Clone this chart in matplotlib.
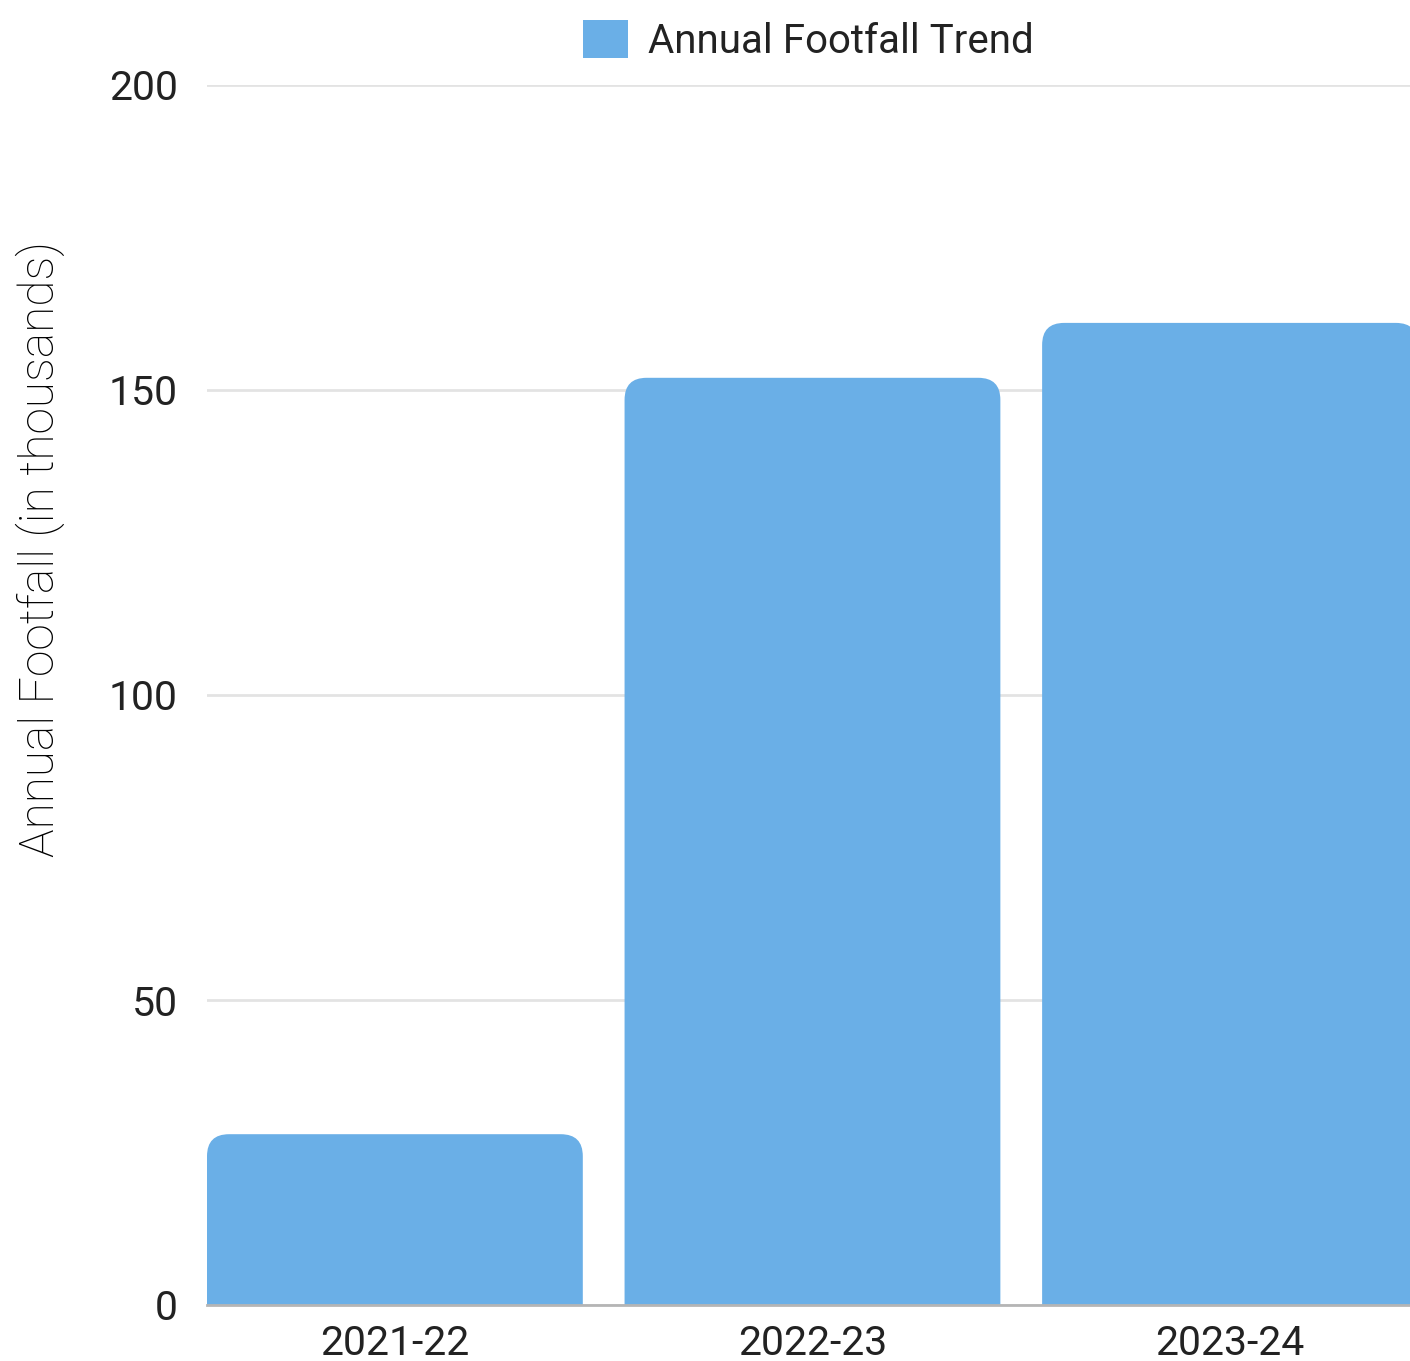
import matplotlib
matplotlib.use('Agg')
import matplotlib.pyplot as plt
from matplotlib.patches import FancyBboxPatch, Patch

matplotlib.rcParams['font.family'] = ['Roboto', 'DejaVu Sans']

# 数据
years = ['2021-22', '2022-23', '2023-24']
footfall = [28, 152, 161]  # in thousands

bar_color = '#6aafe7'
bar_width = 0.9

fig = plt.figure(figsize=(14.10, 13.61), dpi=100)
ax = fig.add_axes([207 / 1410, 1 - 1305 / 1361, 1 - 207 / 1410, (1305 - 85) / 1361])

ax.set_xlim(-0.45, 2.431)
ax.set_ylim(0, 200)

# 圆角柱形: 先用 bar 取位置, 再换成圆角 patch
bars = ax.bar(range(len(years)), footfall, width=bar_width, color=bar_color)
# x/y 像素比例 -> mutation_aspect
px_per_x = (1410 - 207) / (2.431 + 0.45)
px_per_y = (1305 - 85) / 200
aspect = px_per_x / px_per_y
pad_y = 5
for b in bars:
    x0, w, h = b.get_x(), b.get_width(), b.get_height()
    b.set_visible(False)
    r = 22 / px_per_x
    patch = FancyBboxPatch((x0 + r, -pad_y), w - 2 * r, h + pad_y - r * aspect,
                           boxstyle=f'round,pad={r},rounding_size={r}',
                           mutation_aspect=aspect,
                           facecolor=bar_color, edgecolor='none', zorder=2)
    ax.add_patch(patch)

ax.set_yticks([0, 50, 100, 150, 200])
ax.set_xticks(range(len(years)))
ax.set_xticklabels(years)
ax.tick_params(axis='both', length=0, labelsize=29.5, colors='#222222')
ax.tick_params(axis='y', pad=21)
ax.tick_params(axis='x', pad=14)
ax.grid(axis='y', color='#e3e3e3', linewidth=2, zorder=0)
ax.set_axisbelow(True)
for s in ['top', 'right', 'left']:
    ax.spines[s].set_visible(False)
ax.spines['bottom'].set_color('#b5b5b5')
ax.spines['bottom'].set_linewidth(2)
ax.spines['bottom'].set_zorder(3)

ax.set_ylabel('Annual Footfall (in thousands)', fontsize=34.5, fontweight='light',
              color='#000000')
ax.yaxis.set_label_coords(-0.118, 0.62)

handles = [Patch(facecolor=bar_color, edgecolor='none', label='Annual Footfall Trend')]
ax.legend(handles=handles, loc='lower center', bbox_to_anchor=(0.5, 1.0),
          frameon=False, fontsize=29, handlelength=1.1, handleheight=1.1,
          handletextpad=0.5, borderaxespad=0.2, labelcolor='#222222')

fig.savefig('out.png', dpi=100)
